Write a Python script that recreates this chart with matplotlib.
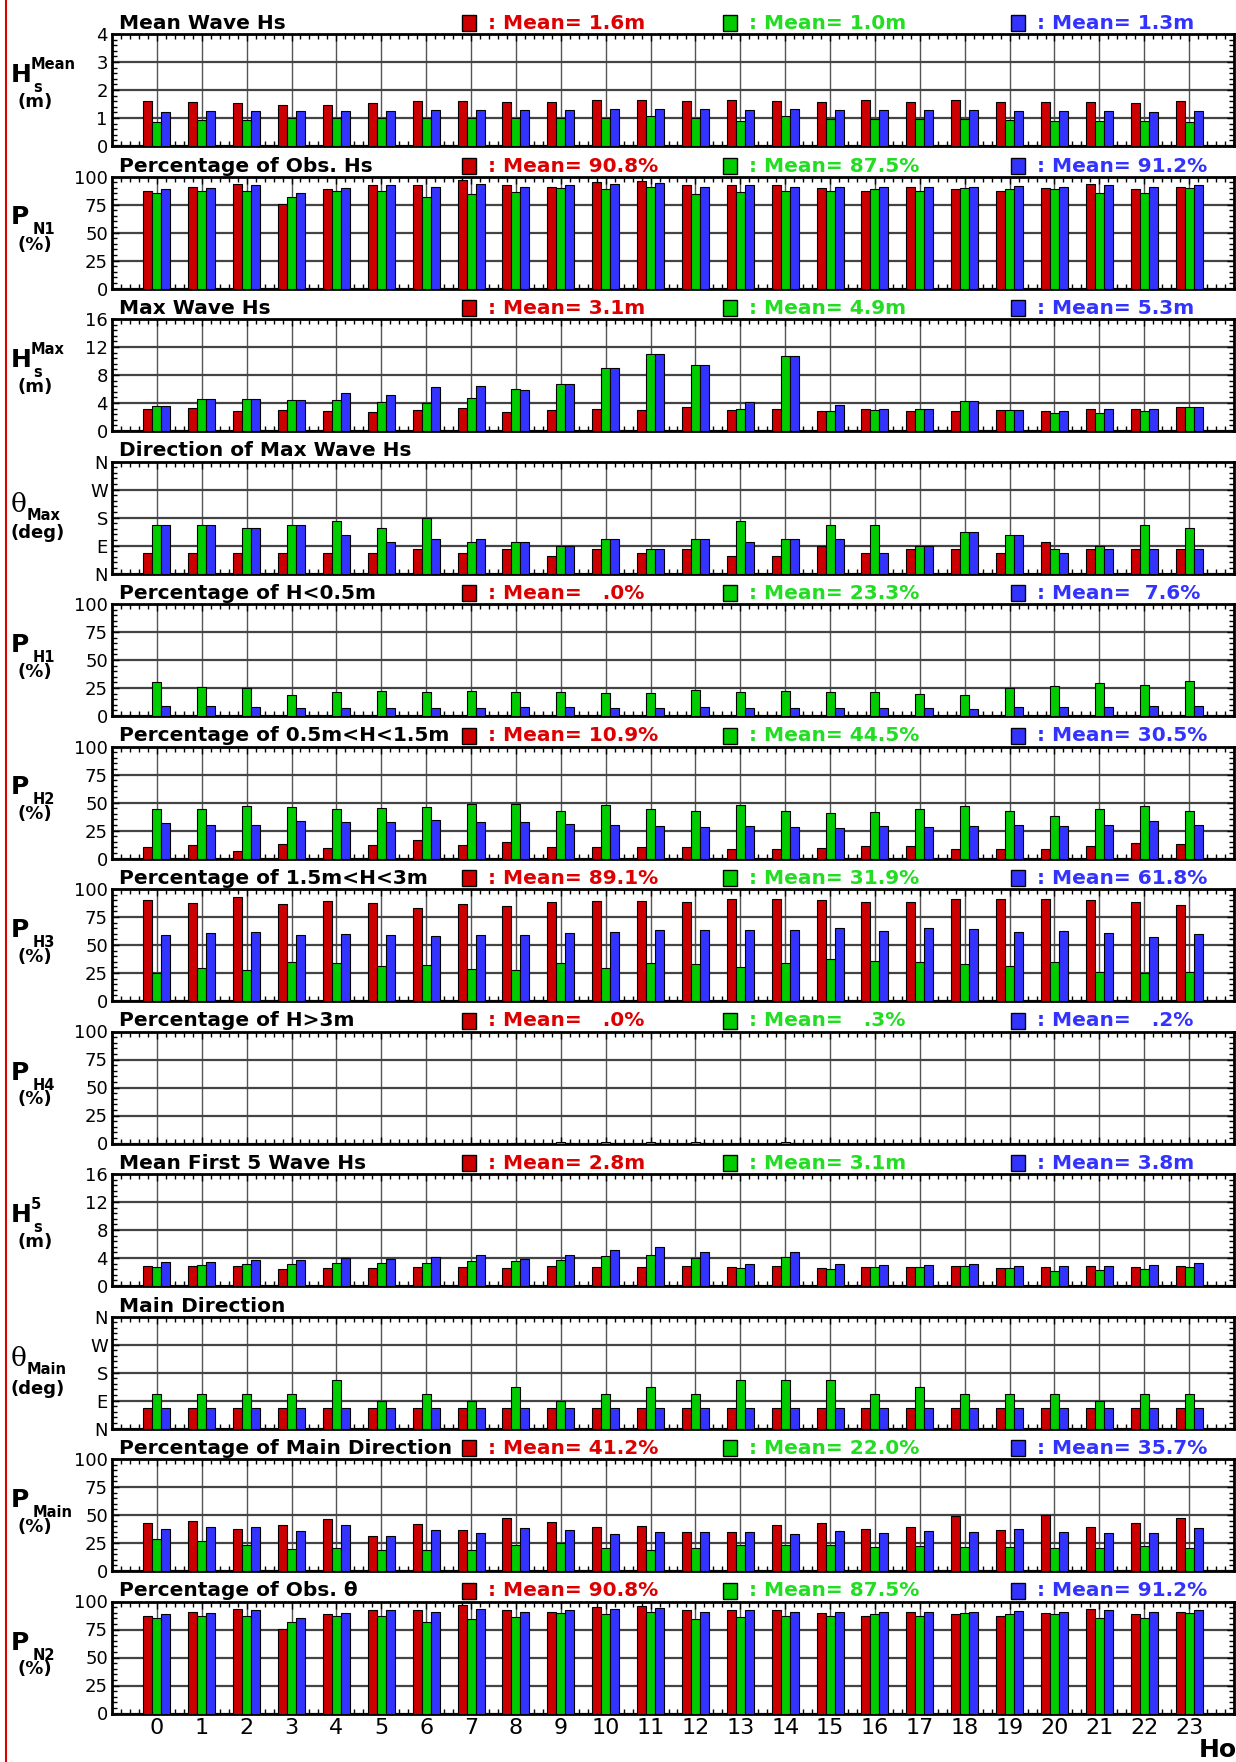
import matplotlib
matplotlib.use('Agg')
import matplotlib.pyplot as plt
from matplotlib.ticker import MultipleLocator
from matplotlib.patches import Rectangle
from matplotlib.lines import Line2D
import numpy as np

# ---------------- data ----------------
hours = list(range(24))
hour_labels = [str(h) for h in hours]

mean_hs_r = [1.61,1.56,1.52,1.46,1.48,1.52,1.60,1.60,1.56,1.56,1.63,1.63,1.61,1.63,1.61,1.58,1.63,1.58,1.63,1.58,1.58,1.57,1.55,1.60]
mean_hs_g = [0.85,0.92,0.92,1.00,0.99,0.99,0.99,1.00,0.99,0.99,1.01,1.08,1.01,0.89,1.07,0.98,0.98,0.95,0.98,0.92,0.88,0.88,0.88,0.85]
mean_hs_b = [1.23,1.24,1.24,1.24,1.26,1.26,1.27,1.29,1.27,1.27,1.31,1.33,1.31,1.27,1.31,1.29,1.27,1.27,1.29,1.24,1.24,1.24,1.23,1.24]

obs_hs_r = [87.5,91.0,93.2,75.6,88.4,92.0,92.0,97.3,92.0,90.8,95.2,96.1,92.0,92.0,92.0,89.9,87.5,90.8,88.4,87.5,89.9,93.2,88.4,90.8]
obs_hs_g = [85.7,87.5,87.5,82.1,87.5,87.5,82.1,84.8,86.6,89.9,89.0,90.8,84.8,86.6,87.5,87.5,89.0,87.5,89.9,89.0,89.0,85.7,85.7,89.9]
obs_hs_b = [89.0,89.9,92.0,85.4,89.9,92.0,90.8,92.9,90.8,92.3,93.2,93.8,90.5,92.0,90.8,90.5,90.8,90.5,90.8,91.4,90.5,92.0,90.2,92.0]

max_hs_r = [3.19,3.33,2.90,3.05,2.81,2.67,3.05,3.24,2.71,3.05,3.10,3.05,3.48,3.05,3.19,2.90,3.19,2.90,2.90,3.05,2.90,3.19,3.19,3.48]
max_hs_g = [3.62,4.62,4.62,4.48,4.48,4.14,4.00,4.76,5.95,6.76,8.95,11.05,9.48,3.19,10.76,2.86,2.95,3.19,4.33,3.05,2.52,2.52,2.90,3.38]
max_hs_b = [3.62,4.62,4.62,4.48,5.38,5.10,6.24,6.48,5.90,6.76,8.95,11.05,9.48,4.14,10.76,3.67,3.19,3.19,4.33,3.05,2.90,3.19,3.19,3.48]

dir_max_r = [67.5,67.5,67.5,67.5,67.5,67.5,78.75,67.5,78.75,56.25,78.75,67.5,78.75,56.25,56.25,90,67.5,78.75,78.75,67.5,101.25,78.75,78.75,78.75]
dir_max_g = [157.5,157.5,146.25,157.5,168.75,146.25,180,101.25,101.25,90,112.5,78.75,112.5,168.75,112.5,157.5,157.5,90,135,123.75,78.75,90,157.5,146.25]
dir_max_b = [157.5,157.5,146.25,157.5,123.75,101.25,112.5,112.5,101.25,90,112.5,78.75,112.5,101.25,112.5,112.5,67.5,90,135,123.75,67.5,78.75,78.75,78.75]

p_h1_r = [0,0,0,0,0,0,0,0,0,0,0,0,0,0,0,0,0,0,0,0,0,0,0,0]
p_h1_g = [30.4,26.2,24.7,18.5,21.1,22.3,21.1,22.0,21.1,21.7,20.8,20.2,22.9,21.1,22.0,21.1,21.7,19.6,19.0,25.3,26.8,29.2,28.0,31.3]
p_h1_b = [9.2,8.6,7.7,6.8,6.8,7.1,6.8,7.4,7.7,7.7,7.1,6.8,8.3,7.1,7.1,7.4,7.4,6.8,6.0,7.7,7.7,8.3,8.6,9.2]

p_h2_r = [10.1,12.2,6.8,13.1,9.8,11.9,16.7,12.2,14.3,10.7,10.4,10.1,10.7,8.3,8.3,9.5,11.0,11.0,8.6,8.6,8.6,11.0,13.4,13.1]
p_h2_g = [44.3,44.3,47.0,46.1,44.3,45.5,46.1,48.8,48.8,42.3,47.6,44.0,42.3,47.6,42.0,40.8,41.7,44.3,47.0,42.6,37.8,44.3,47.0,42.3]
p_h2_b = [31.8,29.8,29.8,33.6,32.4,33.0,34.2,32.7,32.7,30.7,30.1,28.6,27.7,28.9,28.3,27.4,29.2,28.3,29.2,30.1,29.2,30.1,33.6,30.1]

p_h3_r = [89.9,87.5,92.6,86.3,89.6,87.8,82.7,86.9,85.1,88.7,89.3,89.6,88.7,91.4,91.4,89.9,88.4,88.7,90.8,90.8,90.8,89.9,88.4,86.0]
p_h3_g = [25.0,29.2,28.0,34.8,33.9,31.5,32.4,28.9,28.0,34.2,29.8,33.9,32.7,30.7,33.9,37.8,36.0,35.1,33.3,31.5,34.8,25.9,25.0,25.9]
p_h3_b = [58.6,61.0,61.9,58.9,60.1,58.9,58.3,58.9,58.9,61.0,61.6,63.7,63.4,63.4,63.7,65.2,62.8,64.9,64.0,61.3,62.2,60.7,57.1,59.8]

p_h4_r = [0,0,0,0,0,0,0,0,0,0,0,0,0,0,0,0,0,0,0,0,0,0,0,0]
p_h4_g = [0,0,0,0,0,0,0,0,0.8,1.2,1.5,1.2,1.0,0,1.5,0,0,0,0,0,0,0,0,0]
p_h4_b = [0,0,0,0,0.3,0.3,0.4,0.4,0.5,0.6,0.7,0.6,0.5,0,0.5,0,0,0,0,0,0,0,0,0]

first5_r = [2.81,2.86,2.81,2.43,2.62,2.52,2.76,2.71,2.62,2.81,2.76,2.76,2.81,2.71,2.90,2.62,2.76,2.67,2.81,2.62,2.71,2.81,2.76,2.81]
first5_g = [2.71,3.00,3.10,3.10,3.24,3.24,3.29,3.57,3.57,3.67,4.24,4.43,4.05,2.57,4.14,2.43,2.71,2.67,2.86,2.52,2.14,2.29,2.43,2.67]
first5_b = [3.38,3.48,3.71,3.71,3.95,3.86,4.14,4.38,3.86,4.38,5.14,5.52,4.86,3.10,4.90,3.10,3.00,2.95,3.14,2.86,2.86,2.86,2.95,3.24]

dir_main_r = [67.5]*24
dir_main_g = [112.5,112.5,112.5,112.5,157.5,90,112.5,90,135,90,112.5,135,112.5,157.5,157.5,157.5,112.5,135,112.5,112.5,112.5,90,112.5,112.5]
dir_main_b = [67.5]*24

p_main_r = [43.2,44.9,37.8,41.4,46.7,31.5,42.3,36.3,47.0,44.0,39.6,40.5,35.1,35.1,41.4,43.2,37.8,39.0,48.8,36.9,49.7,39.6,42.6,47.6]
p_main_g = [28.9,26.8,23.5,19.9,20.8,18.5,18.5,19.0,23.5,25.0,20.8,19.0,20.8,23.5,23.5,23.5,21.7,22.3,21.7,21.7,20.8,20.2,22.6,20.8]
p_main_b = [37.2,39.6,39.6,35.4,41.4,31.0,36.9,33.9,38.1,36.9,33.0,35.1,35.1,35.1,33.3,35.4,33.6,36.0,35.1,37.8,34.5,34.2,33.6,38.7]

obs_dir_r = [87.5,91.0,93.2,75.6,88.4,92.0,92.0,97.3,92.0,90.8,95.2,96.1,92.0,92.0,92.0,89.9,87.5,90.8,88.4,87.5,89.9,93.2,88.4,90.8]
obs_dir_g = [85.7,87.5,87.5,82.1,87.5,87.5,82.1,84.8,86.6,89.9,89.0,90.8,84.8,86.6,87.5,87.5,89.0,87.5,89.9,89.0,89.0,85.7,85.7,89.9]
obs_dir_b = [89.0,89.9,92.0,85.4,89.9,92.0,90.8,92.9,90.8,92.3,93.2,93.8,90.5,92.0,90.8,90.5,90.8,90.5,90.8,91.4,90.5,92.0,90.2,92.0]

titles = ["Mean Wave Hs", "Percentage of Obs. Hs", "Max Wave Hs", "Direction of Max Wave Hs",
          "Percentage of H<0.5m", "Percentage of 0.5m<H<1.5m", "Percentage of 1.5m<H<3m",
          "Percentage of H>3m", "Mean First 5 Wave Hs", "Main Direction",
          "Percentage of Main Direction", "Percentage of Obs. \u03b8"]

mean_labels = [
    [": Mean= 1.6m", ": Mean= 1.0m", ": Mean= 1.3m"],
    [": Mean= 90.8%", ": Mean= 87.5%", ": Mean= 91.2%"],
    [": Mean= 3.1m", ": Mean= 4.9m", ": Mean= 5.3m"],
    None,
    [": Mean=   .0%", ": Mean= 23.3%", ": Mean=  7.6%"],
    [": Mean= 10.9%", ": Mean= 44.5%", ": Mean= 30.5%"],
    [": Mean= 89.1%", ": Mean= 31.9%", ": Mean= 61.8%"],
    [": Mean=   .0%", ": Mean=   .3%", ": Mean=   .2%"],
    [": Mean= 2.8m", ": Mean= 3.1m", ": Mean= 3.8m"],
    None,
    [": Mean= 41.2%", ": Mean= 22.0%", ": Mean= 35.7%"],
    [": Mean= 90.8%", ": Mean= 87.5%", ": Mean= 91.2%"],
]

# y-axis label pieces: (main, superscript, subscript, unit)
ylabels = [("H", "Mean", "s", "(m)"), ("P", "", "N1", "(%)"), ("H", "Max", "s", "(m)"),
           ("\u03b8", "", "Max", "(deg)"), ("P", "", "H1", "(%)"), ("P", "", "H2", "(%)"),
           ("P", "", "H3", "(%)"), ("P", "", "H4", "(%)"), ("H", "5", "s", "(m)"),
           ("\u03b8", "", "Main", "(deg)"), ("P", "", "Main", "(%)"), ("P", "", "N2", "(%)")]

series = [
    (mean_hs_r, mean_hs_g, mean_hs_b), (obs_hs_r, obs_hs_g, obs_hs_b),
    (max_hs_r, max_hs_g, max_hs_b), (dir_max_r, dir_max_g, dir_max_b),
    (p_h1_r, p_h1_g, p_h1_b), (p_h2_r, p_h2_g, p_h2_b), (p_h3_r, p_h3_g, p_h3_b),
    (p_h4_r, p_h4_g, p_h4_b), (first5_r, first5_g, first5_b),
    (dir_main_r, dir_main_g, dir_main_b), (p_main_r, p_main_g, p_main_b),
    (obs_dir_r, obs_dir_g, obs_dir_b),
]

kinds = ["m4", "pct", "m16", "dir", "pct", "pct", "pct", "pct", "m16", "dir", "pct", "pct"]

# ---------------- style ----------------
W, H = 1236, 1762
BAR_COLORS = ["#CC0000", "#00CC00", "#3333FF"]
TXT_COLORS = ["#DD0000", "#22DD22", "#3333FF"]
plt.rcParams['font.family'] = ["DejaVu Sans"]

fig = plt.figure(figsize=(W / 100, H / 100), dpi=100)

def fx(px):
    return px / W

def fy(py):
    return 1 - py / H

AX_L, AX_R = 112, 1234
TOP0, STEP, AX_H = 34, 142.5, 112

x = np.array(hours, dtype=float)
for i in range(12):
    top = TOP0 + STEP * i
    bot = top + AX_H
    ax = fig.add_axes([fx(AX_L), fy(bot), (AX_R - AX_L) / W, AX_H / H])
    r, g, b = series[i]
    for k, (vals, off) in enumerate(zip((r, g, b), (-0.2, 0.0, 0.2))):
        ax.bar(x + off, vals, width=0.2, color=BAR_COLORS[k], edgecolor="black",
               linewidth=0.8, zorder=3)
    ax.set_xlim(-1, 24)
    ax.set_xticks(hours)
    ax.xaxis.set_minor_locator(MultipleLocator(0.2))
    kind = kinds[i]
    if kind == "m4":
        ax.set_ylim(0, 4)
        ax.yaxis.set_major_locator(MultipleLocator(1))
        ax.yaxis.set_minor_locator(MultipleLocator(0.2))
    elif kind == "m16":
        ax.set_ylim(0, 16)
        ax.yaxis.set_major_locator(MultipleLocator(4))
        ax.yaxis.set_minor_locator(MultipleLocator(0.8))
    elif kind == "pct":
        ax.set_ylim(0, 100)
        ax.yaxis.set_major_locator(MultipleLocator(25))
        ax.yaxis.set_minor_locator(MultipleLocator(5))
    else:
        ax.set_ylim(0, 360)
        ax.set_yticks([0, 90, 180, 270, 360])
        ax.set_yticklabels(["N", "E", "S", "W", "N"])
        ax.yaxis.set_minor_locator(MultipleLocator(18))
    ax.grid(axis="x", which="major", color="#555555", linewidth=1.0, zorder=1)
    ax.grid(axis="y", which="major", color="#444444", linewidth=1.6, zorder=1)
    ax.set_axisbelow(True)
    ax.tick_params(which="both", direction="in", top=True, right=True, width=1)
    ax.tick_params(which="major", length=5)
    ax.tick_params(which="minor", length=3.5)
    ax.tick_params(axis="y", labelsize=13, pad=3)
    for sp in ax.spines.values():
        sp.set_linewidth(2)
        sp.set_color("black")
    if i == 11:
        ax.set_xticklabels(hour_labels)
        ax.tick_params(axis="x", labelsize=16, pad=3)
    else:
        ax.tick_params(axis="x", labelbottom=False)

    # title
    fig.text(fx(119), fy(top - 5), titles[i], fontsize=14.5, fontweight="bold",
             ha="left", va="baseline", color="black")
    # mean labels with colour squares
    if mean_labels[i] is not None:
        for k, (sqx, tx) in enumerate([(462, 488), (723, 749), (1011, 1037)]):
            fig.patches.append(Rectangle((fx(sqx), fy(top - 3)), 14 / W, 16 / H,
                                         transform=fig.transFigure, facecolor=BAR_COLORS[k],
                                         edgecolor="black", linewidth=1))
            fig.text(fx(tx), fy(top - 5), mean_labels[i][k], fontsize=14.5, fontweight="bold",
                     color=TXT_COLORS[k], ha="left", va="baseline")

    # y label
    main, sup, sub, unit = ylabels[i]
    if main == "\u03b8":
        fig.text(fx(11), fy(top + 50), main, fontsize=19, family="DejaVu Serif",
                 ha="left", va="baseline")
        fig.text(fx(27), fy(top + 58), sub, fontsize=10.5, fontweight="bold", ha="left", va="baseline")
        fig.text(fx(38), fy(top + 77), unit, fontsize=13, fontweight="bold", ha="center", va="baseline")
    else:
        fig.text(fx(11), fy(top + 48), main, fontsize=18, fontweight="bold", ha="left", va="baseline")
        if sup:
            fig.text(fx(31), fy(top + 35), sup, fontsize=10.5, fontweight="bold", ha="left", va="baseline")
        fig.text(fx(33), fy(top + 58), sub, fontsize=10.5, fontweight="bold", ha="left", va="baseline")
        fig.text(fx(35), fy(top + 73), unit, fontsize=13, fontweight="bold", ha="center", va="baseline")

# x-axis label (partly beyond the figure edge, as in the reference)
fig.text(fx(1199), fy(1757), "Hour", fontsize=18, fontweight="bold", ha="left", va="baseline")

# red line at left edge
fig.add_artist(Line2D([fx(6), fx(6)], [0, 1], color="#DD0000", linewidth=1.5,
                      transform=fig.transFigure))

fig.savefig("out.png", dpi=100, facecolor="white")
